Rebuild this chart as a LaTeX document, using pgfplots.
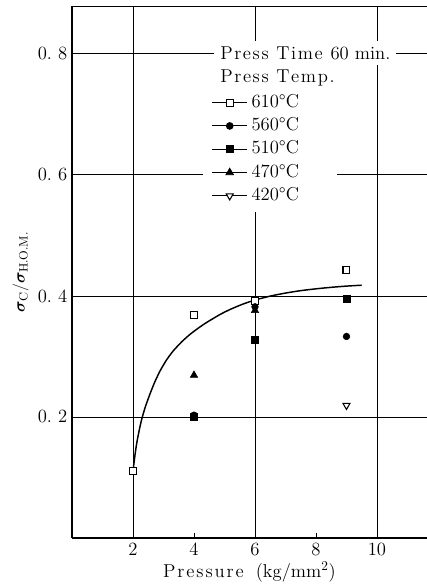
\documentclass[border=0pt]{standalone}
\usepackage{fontspec}
\usepackage{bm}
\usepackage{pgfplots}
\pgfplotsset{compat=1.18}
\newcommand\lsp[1]{#1\kern1.4pt\relax}
\newcommand\tsp[1]{#1\kern1.2pt\relax}
\begin{document}
\begin{tikzpicture}[font=\fontsize{14}{16}\selectfont]
\begin{axis}[
  at={(0,0)}, anchor=south west,
  scale only axis,
  width=266.25pt, height=399pt,
  xmin=0, xmax=11.64, ymin=0, ymax=0.879,
  axis x line*=bottom, axis y line*=left,
  axis line style={-, line width=0.9pt, black},
  tick align=inside,
  xtick={4,8}, xticklabels={4,8},
  major tick length=3.75pt,
  tick style={black, line width=0.7pt},
  extra x ticks={2,6,10}, extra x tick labels={2,6,10},
  extra x tick style={grid=major, major tick length=0pt},
  ytick={0.2,0.4,0.6,0.8},
  yticklabels={0.\ 2,0.\ 4,0.\ 6,0.\ 8},
  ymajorgrids,
  ytick style={draw=none},
  grid style={black, line width=0.6pt},
  xlabel={\lsp P\lsp r\lsp e\lsp s\lsp s\lsp u\lsp re\ \ (kg/mm$^{2}$)},
  ylabel={$\bm{\sigma}_{\mathrm{C}}/\bm{\sigma}_{\mathrm{H.O.M.}}$},
  xlabel style={yshift=2pt},
  ylabel style={font=\fontsize{13}{15}\selectfont},
  legend style={at={(rel axis cs:0.3934,0.8352)}, anchor=north west,
    draw=none, fill=none, inner sep=0pt, row sep=4.5pt,
    nodes={inner sep=1pt, text height=9pt, text depth=2pt},
    /tikz/every odd column/.append style={column sep=2pt}},
  legend cell align=left,
  legend image code/.code={\draw[sharp plot, mark repeat=2, mark phase=2, line width=0.7pt] plot coordinates {(0pt,0pt) (13pt,0pt) (26pt,0pt)};},
]
% white backdrop of the legend block
\fill[white] (rel axis cs:0.369,0.6128) rectangle (rel axis cs:0.7465,0.8985);
\node[anchor=base west, fill=white, inner xsep=4.5pt, inner ysep=4pt] at (rel axis cs:0.40,0.8995)
  {\tsp P\tsp r\tsp e\tsp s\tsp s \tsp T\tsp i\tsp m\tsp e 60 min.};
\node[anchor=base west, inner sep=0pt] at (rel axis cs:0.4169,0.8553)
  {\tsp P\tsp r\tsp e\tsp s\tsp s \tsp T\tsp e\tsp m\tsp p.};
\draw[line width=0.9pt] (rel axis cs:0,1) -- (rel axis cs:1,1);
\node[anchor=north, xshift=-7.5pt] at (rel axis cs:0,0) {0};

% fitted curve
\addplot[smooth, tension=0.4, black, line width=1.1pt, forget plot] coordinates {
(2,0.110) (2.06,0.135) (2.12,0.156) (2.2,0.177) (2.28,0.195) (2.4,0.216) (2.56,0.2384) (2.72,0.2584) (2.89,0.2763) (3.1,0.2942) (3.32,0.3092)
(3.6,0.3243) (3.87,0.3365) (4.15,0.3471) (4.42,0.3563) (4.85,0.3692) (5.2,0.3780) (5.6,0.3864) (6,0.3932) (6.5,0.3997) (7,0.4047) (7.5,0.4087) (8,0.4117) (8.5,0.4142) (9,0.4162) (9.5,0.4177)};

% 610 C
\addplot[only marks, black, mark=square*, mark size=2.6pt, mark options={fill=white, line width=0.8pt}]
coordinates {(2,0.110) (4,0.369) (6,0.391) (9,0.443)};
\addlegendentry{610°C}
% 560 C
\addplot[only marks, black, mark=*, mark size=2.5pt]
coordinates {(4,0.203) (6,0.382) (9,0.333)};
\addlegendentry{560°C}
% 510 C
\addplot[only marks, black, mark=square*, mark size=2.6pt]
coordinates {(4,0.200) (6,0.327) (9,0.396)};
\addlegendentry{510°C}
% 470 C
\addplot[only marks, black, mark=triangle*, mark size=3.2pt]
coordinates {(4,0.269) (6,0.376)};
\addlegendentry{470°C}
% 420 C
\addplot[only marks, black, mark=triangle*, mark size=3pt, mark options={rotate=180, fill=white, line width=0.8pt}]
coordinates {(9,0.219)};
\addlegendentry{420°C}
\end{axis}
\pgfresetboundingbox
\path[use as bounding box] (-54pt,-36.75pt) rectangle (266.25pt,403.5pt);
\end{tikzpicture}
\end{document}
